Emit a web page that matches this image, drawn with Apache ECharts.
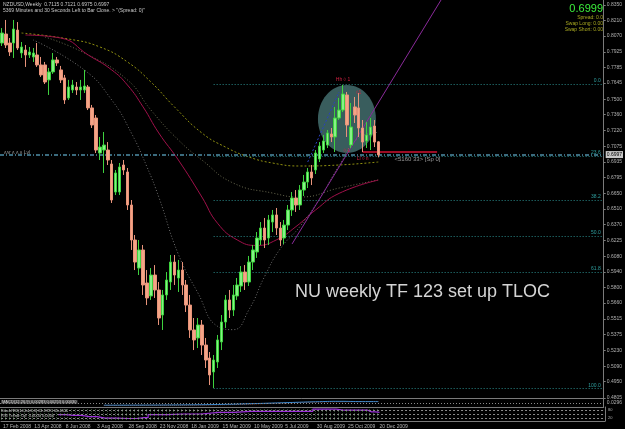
<!DOCTYPE html>
<html><head><meta charset="utf-8">
<script src="https://cdn.jsdelivr.net/npm/echarts@6/dist/echarts.min.js"></script>
<style>html,body{margin:0;padding:0;background:#000;}#c{width:625px;height:429px;}</style>
</head><body><div id="c"></div>
<script>
// ---- tick labels / categories ----
const dateLabels = ['17 Feb 2008','13 Apr 2008','8 Jun 2008','3 Aug 2008','28 Sep 2008','23 Nov 2008','18 Jan 2009','15 Mar 2009','10 May 2009','5 Jul 2009','30 Aug 2009','25 Oct 2009','20 Dec 2009'];
const labelStep = 8;
const slotCount = 154; // weekly slots incl. empty chart shift area
const priceTicks = [0.8350,0.8210,0.8070,0.7925,0.7785,0.7645,0.7500,0.7360,0.7220,0.7075,0.6935,0.6795,0.6650,0.6510,0.6370,0.6225,0.6080,0.5940,0.5800,0.5660,0.5515,0.5375,0.5230,0.5090,0.4950,0.4805];
const priceMin = 0.48031, priceMax = 0.83951;

// ---- weekly OHLC: [open, close, low, high] ----
const ohlc = [
[0.8007,0.8097,0.7980,0.8142],[0.8088,0.7989,0.7962,0.8215],[0.8007,0.7926,0.7890,0.8052],[0.8007,0.8133,0.7872,0.8215],
[0.8124,0.7962,0.7944,0.8196],[0.7917,0.7971,0.7872,0.8016],[0.7944,0.7899,0.7791,0.7989],[0.7899,0.7926,0.7872,0.7971],
[0.7881,0.7917,0.7836,0.7962],[0.7899,0.7809,0.7791,0.8007],[0.7809,0.7719,0.7701,0.7881],[0.7809,0.7655,0.7637,0.7836],
[0.7674,0.7746,0.7538,0.7782],[0.7746,0.7854,0.7728,0.7917],[0.7854,0.7827,0.7800,0.7881],[0.7764,0.7674,0.7646,0.7800],
[0.7692,0.7493,0.7457,0.7719],[0.7511,0.7610,0.7493,0.7674],[0.7583,0.7628,0.7556,0.7674],[0.7610,0.7583,0.7538,0.7655],
[0.7583,0.7610,0.7493,0.7674],[0.7583,0.7619,0.7556,0.7764],[0.7610,0.7421,0.7402,0.7628],[0.7421,0.7267,0.7240,0.7448],
[0.7330,0.7041,0.7014,0.7357],[0.7014,0.7068,0.6951,0.7159],[0.7041,0.7086,0.6834,0.7204],[0.7041,0.6951,0.6906,0.7113],
[0.6915,0.6590,0.6563,0.6951],[0.6662,0.6834,0.6635,0.6861],[0.6662,0.6888,0.6635,0.6924],[0.6906,0.6861,0.6816,0.6951],
[0.6843,0.6545,0.6500,0.6879],[0.6545,0.6229,0.6139,0.6590],[0.6229,0.6030,0.5958,0.6274],[0.5976,0.6139,0.5913,0.6229],
[0.6139,0.5823,0.5733,0.6184],[0.5841,0.5706,0.5642,0.5958],[0.5724,0.5913,0.5688,0.5976],[0.5913,0.5778,0.5706,0.6003],
[0.5778,0.5525,0.5462,0.5850],[0.5552,0.5733,0.5417,0.5778],[0.5733,0.5868,0.5688,0.5940],[0.5850,0.6030,0.5778,0.6094],
[0.6030,0.5913,0.5823,0.6094],[0.5886,0.5958,0.5760,0.6049],[0.5958,0.5823,0.5733,0.6030],[0.5823,0.5642,0.5579,0.5868],
[0.5642,0.5417,0.5345,0.5733],[0.5417,0.5327,0.5236,0.5525],[0.5345,0.5462,0.5254,0.5525],[0.5462,0.5281,0.5191,0.5507],
[0.5281,0.5146,0.5074,0.5345],[0.5164,0.5011,0.4920,0.5218],[0.5038,0.5146,0.4893,0.5191],[0.5128,0.5327,0.5074,0.5372],
[0.5309,0.5489,0.5236,0.5552],[0.5489,0.5688,0.5435,0.5733],[0.5688,0.5597,0.5525,0.5778],[0.5597,0.5733,0.5543,0.5823],
[0.5724,0.5823,0.5688,0.5886],[0.5814,0.5940,0.5760,0.5994],[0.5940,0.5850,0.5778,0.6003],[0.5850,0.6030,0.5814,0.6085],
[0.6030,0.6139,0.5958,0.6184],[0.6121,0.6247,0.6067,0.6301],[0.6229,0.6337,0.6184,0.6391],[0.6337,0.6229,0.6157,0.6428],
[0.6247,0.6410,0.6184,0.6455],[0.6391,0.6455,0.6301,0.6500],[0.6455,0.6337,0.6274,0.6518],[0.6337,0.6229,0.6175,0.6391],
[0.6247,0.6364,0.6193,0.6410],[0.6364,0.6500,0.6319,0.6545],[0.6500,0.6608,0.6446,0.6662],[0.6608,0.6545,0.6482,0.6680],
[0.6545,0.6680,0.6500,0.6725],[0.6680,0.6752,0.6626,0.6816],[0.6752,0.6843,0.6698,0.6879],[0.6843,0.6789,0.6725,0.6906],
[0.6861,0.7014,0.6825,0.7041],[0.6960,0.7077,0.6933,0.7113],[0.7041,0.7123,0.7014,0.7177],[0.7086,0.7195,0.7059,0.7222],
[0.7186,0.7159,0.7113,0.7240],[0.7159,0.7330,0.7023,0.7430],[0.7330,0.7402,0.7312,0.7511],[0.7402,0.7547,0.7384,0.7628],
[0.7538,0.7267,0.7159,0.7565],[0.7086,0.7249,0.7059,0.7466],[0.7430,0.7357,0.7285,0.7520],[0.7421,0.7240,0.7159,0.7556],
[0.7240,0.7113,0.7023,0.7312],[0.7123,0.7177,0.7059,0.7294],[0.7177,0.7249,0.7041,0.7330],[0.7258,0.7113,0.7068,0.7312],
[0.7115,0.6997,0.6975,0.7121]
];
const bidPrice = 0.6997;
const tickerPrice = '0.6999';

// ---- moving averages: [weekIndex, price] ----
const maSlow = [[4.6,0.8097],[16.6,0.8043],[25,0.7971],[31.9,0.7836],[37.8,0.7655],[43.6,0.7430],[50.5,0.7195],[57.4,0.7068],[63.3,0.6978],[69.1,0.6924],[76,0.6897],[86,0.6906],[96,0.6933]];
const maMid = [[10.5,0.8061],[20.7,0.7917],[31.9,0.7674],[37.8,0.7402],[44.6,0.7132],[50.5,0.6951],[59,0.6743],[69,0.6653],[76,0.6617],[86,0.6698],[96,0.6771]];
const maRed = [[6.4,0.8079],[14.8,0.8052],[22.4,0.7899],[27.6,0.7764],[31.9,0.7628],[36,0.7430],[39.5,0.7195],[44.6,0.6951],[50.5,0.6617],[55,0.6380],[60,0.6230],[65,0.6180],[70,0.6230],[75,0.6350],[80,0.6500],[86,0.6650],[96,0.6770]];
const maFast = [[8,0.8034],[20.7,0.7764],[27.6,0.7493],[33.4,0.7195],[37,0.6888],[39.5,0.6617],[45,0.6100],[50,0.5750],[55,0.5450],[59,0.5420],[63,0.5600],[67,0.5900],[71,0.6150],[76,0.6350],[81,0.6600],[86,0.6900],[91,0.7150],[96,0.7200]];

// ---- fibonacci anchors & levels ----
const fibHigh = 0.7637, fibLow = 0.4887, fibStart = 54;
const fibLevels = [0, 23.6, 38.2, 50.0, 61.8, 100.0];

// ---- drawn objects ----
const trendPurple = [[74,0.6193],[112,0.8395]];
const trendBlue = [[77.8,0.6933],[85.5,0.7565]];
const redLine = [[92,0.7023],[111,0.7023]];

// ---- sub-window indicators (0..100 scale) ----
const macdMain = [[26,20],[35,21],[45,23],[55,28],[62,35],[70,45],[80,58],[86,63],[92,60],[96,60]];
const macdSignal = [[26,17],[40,19],[55,24],[70,41],[80,54],[90,59],[96,62]];
const oscLine = [[14,46],[18,40],[22,31],[26,20],[32,18],[36,24],[38,46],[46,50],[55,62],[63,69],[75,69],[83,85],[87,77],[92,77],[94,65],[96,62]];
const oscLevels = [80, 50, 20];

const cats = [];
for (let i = 0; i < slotCount; i++) cats.push(String(i));

const FONT = 'Liberation Sans';
const chart = echarts.init(document.getElementById('c'), null, {renderer: 'canvas'});

const fibRange = fibHigh - fibLow;
const fibMark = fibLevels.map(l => {
  const v = fibHigh - fibRange * l / 100;
  return [{coord: [fibStart, v]}, {coord: [slotCount - 1, v],
    label: {show: true, formatter: l.toFixed(1), position: 'insideEndTop', color: '#2f9f9f', fontSize: 5, fontFamily: FONT, distance: 1}}];
});

function axisX(grid, showLabel) {
  return {
    type: 'category', data: cats, gridIndex: grid, boundaryGap: true,
    axisLine: {show: true, lineStyle: {color: '#7a7a7a', width: 1}},
    axisTick: {show: false},
    splitLine: grid === 2 ? {show: true, interval: (idx) => idx <= ohlc.length - 1, lineStyle: {color: '#2e4a2e', width: 1, type: [1, 1]}} : {show: false},
    axisLabel: showLabel ? {
      show: true, interval: (idx) => idx % labelStep === 0 && idx / labelStep < dateLabels.length,
      formatter: (v, idx) => dateLabels[idx / labelStep] || '',
      align: 'left', color: '#b8b8b8', fontSize: 5, fontFamily: FONT, margin: 3
    } : {show: false}
  };
}

const option = {
  backgroundColor: '#000000',
  animation: false,
  grid: [
    {left: 0, top: 0, width: 605, height: 398},
    {left: 0, top: 398, width: 605, height: 9},
    {left: 0, top: 407, width: 605, height: 14}
  ],
  xAxis: [axisX(0, false), axisX(1, false), axisX(2, true)],
  yAxis: [
    {type: 'value', gridIndex: 0, position: 'right', min: priceMin, max: priceMax, scale: true,
     axisLine: {show: true, lineStyle: {color: '#7a7a7a'}},
     axisTick: {show: true, length: 2, inside: false, customValues: priceTicks, lineStyle: {color: '#7a7a7a'}},
     splitLine: {show: false},
     axisLabel: {show: true, customValues: priceTicks, formatter: v => v.toFixed(4), color: '#b0b0b0', fontSize: 5, fontFamily: FONT, margin: 3}},
    {type: 'value', gridIndex: 1, position: 'right', min: 0, max: 100,
     axisLine: {show: true, lineStyle: {color: '#7a7a7a'}}, axisTick: {show: false}, splitLine: {show: false},
     axisLabel: {show: true, customValues: [45], formatter: () => '0.0296', color: '#b0b0b0', fontSize: 5, fontFamily: FONT, margin: 3}},
    {type: 'value', gridIndex: 2, position: 'right', min: 0, max: 100,
     axisLine: {show: true, lineStyle: {color: '#7a7a7a'}}, axisTick: {show: false}, splitLine: {show: false},
     axisLabel: {show: true, customValues: [80, 20], formatter: v => String(v), color: '#b0b0b0', fontSize: 4, fontFamily: FONT, margin: 3}}
  ],
  series: [
    {type: 'line', xAxisIndex: 0, yAxisIndex: 0, data: maSlow, smooth: true, showSymbol: false, z: 3,
     lineStyle: {color: '#8f8f10', width: 1, type: [2, 2]}},
    {type: 'line', xAxisIndex: 0, yAxisIndex: 0, data: maMid, smooth: true, showSymbol: false, z: 3,
     lineStyle: {color: '#6a6a50', width: 1, type: [1, 2]}},
    {type: 'line', xAxisIndex: 0, yAxisIndex: 0, data: maRed, smooth: true, showSymbol: false, z: 3,
     lineStyle: {color: '#a0104a', width: 1}},
    {type: 'line', xAxisIndex: 0, yAxisIndex: 0, data: maFast, smooth: true, showSymbol: false, z: 3,
     lineStyle: {color: '#6f6f6f', width: 1, type: [1, 2]}},
    {type: 'line', xAxisIndex: 0, yAxisIndex: 0, data: trendPurple, showSymbol: false, z: 3,
     lineStyle: {color: '#8a2a9a', width: 1}},
    {type: 'line', xAxisIndex: 0, yAxisIndex: 0, data: trendBlue, showSymbol: false, z: 3,
     lineStyle: {color: '#2a40c0', width: 1, type: [2, 2]}},
    {type: 'line', xAxisIndex: 0, yAxisIndex: 0, data: redLine, showSymbol: false, z: 3,
     lineStyle: {color: '#d01030', width: 1.5}},
    {type: 'candlestick', xAxisIndex: 0, yAxisIndex: 0, data: ohlc, barWidth: 3, z: 5,
     itemStyle: {color: '#86f286', borderColor: '#3ed23e', color0: '#f4a586', borderColor0: '#e8937a', borderWidth: 1},
     markLine: {
       silent: true, symbol: ['none', 'none'], animation: false,
       lineStyle: {color: '#2a8a8a', width: 1, type: [1, 2]},
       label: {show: false},
       data: [
         ...fibMark,
         {yAxis: bidPrice, lineStyle: {color: '#4f8fa8', width: 1.5, type: [4, 2, 1, 2]},
          label: {show: true, position: 'end', formatter: bidPrice.toFixed(4), color: '#000', backgroundColor: '#c8c8c8',
                  fontSize: 5, fontFamily: FONT, padding: [1, 1], distance: 2}}
       ]
     }},
    {type: 'line', xAxisIndex: 1, yAxisIndex: 1, data: macdSignal, smooth: true, showSymbol: false,
     lineStyle: {color: '#a04a2a', width: 1, type: [1, 1]}},
    {type: 'line', xAxisIndex: 1, yAxisIndex: 1, data: macdMain, smooth: true, showSymbol: false,
     lineStyle: {color: '#3a8ad0', width: 1},
     markLine: {silent: true, symbol: ['none', 'none'], label: {show: false},
       lineStyle: {color: '#8a8a8a', width: 1, type: [1, 2]}, data: [{yAxis: 45}]}},
    {type: 'line', xAxisIndex: 2, yAxisIndex: 2, data: oscLine, showSymbol: false, step: 'middle',
     lineStyle: {color: '#9a30d8', width: 1.2},
     markLine: {silent: true, symbol: ['none', 'none'], label: {show: false},
       lineStyle: {color: '#8a8a8a', width: 1, type: [2, 2]}, data: oscLevels.map(v => ({yAxis: v}))}}
  ]
};
chart.setOption(option);

// ---- annotations positioned through the chart's own scales ----
const px = (i, p) => chart.convertToPixel({gridIndex: 0}, [i, p]);
const ell = px(87.8, 0.7321);
const hh = px(87.3, 0.7680);
const l1 = px(90.8, 0.7556);
const lo1 = px(88.2, 0.7036);
const lo2 = px(91.5, 0.6960);
const sp = px(105.9, 0.6960);
chart.setOption({
  graphic: [
    {type: 'ellipse', shape: {cx: ell[0], cy: ell[1], rx: 29, ry: 34}, style: {fill: 'rgba(92,150,150,0.62)'}, z: 1},
    {type: 'text', left: 3, top: 2, style: {text: 'NZDUSD,Weekly  0.7115 0.7121 0.6975 0.6997', fill: '#c8c8c8', font: '5px ' + FONT}},
    {type: 'text', left: 3, top: 8, style: {text: "5369 Minutes and 30 Seconds Left to Bar Close. > ''(Spread: 0)''", fill: '#c8c8c8', font: '5px ' + FONT}},
    {type: 'text', right: 22, top: 3, style: {text: tickerPrice, fill: '#3cf03c', font: '11px ' + FONT, align: 'right'}},
    {type: 'text', right: 22, top: 15, style: {text: 'Spread: 0.0', fill: '#a8a820', font: '5px ' + FONT}},
    {type: 'text', right: 22, top: 21, style: {text: 'Swap Long: 0.00', fill: '#a8a820', font: '5px ' + FONT}},
    {type: 'text', right: 22, top: 27, style: {text: 'Swap Short: 0.00', fill: '#a8a820', font: '5px ' + FONT}},
    {type: 'text', left: 295, top: 283, style: {text: 'NU weekly TF 123 set up TLOC', fill: '#d4d4d4', font: '18px ' + FONT}},
    {type: 'text', x: hh[0], y: hh[1], style: {text: 'Hh \u25CA 1', fill: '#d02040', font: '5px ' + FONT, align: 'center', verticalAlign: 'middle'}, z: 10},
    {type: 'text', x: l1[0], y: l1[1], style: {text: '\u25CA1', fill: '#d02040', font: '5px ' + FONT, align: 'center', verticalAlign: 'middle'}, z: 10},
    {type: 'text', x: lo1[0], y: lo1[1], style: {text: '\u25CA L', fill: '#d02040', font: '5px ' + FONT, align: 'center', verticalAlign: 'middle'}, z: 10},
    {type: 'text', x: lo2[0], y: lo2[1], style: {text: 'Ll \u25CA n', fill: '#d02040', font: '5px ' + FONT, align: 'center', verticalAlign: 'middle'}, z: 10},
    {type: 'text', x: sp[0], y: sp[1], style: {text: '<5160 33> [Sp 0]', fill: '#9a9a9a', font: '6px ' + FONT, align: 'center', verticalAlign: 'middle'}, z: 10},
    {type: 'text', left: 4, top: 150, style: {text: 'ʌʌr ʌ ʌ ʌ Lvl', fill: '#9a9a9a', font: '5px ' + FONT}},
    {type: 'text', left: 1, top: 400, style: {text: 'MACD(12,26,9) 0.00283 0.00253 0.00030', fill: '#d0d0d0', font: '4px ' + FONT, backgroundColor: '#404040', padding: [0, 1]}},
    {type: 'text', left: 1, top: 409, style: {text: 'StochRSI(14,14,3,3) 61.9370 65.4511', fill: '#c0c0c0', font: '4px ' + FONT}},
    {type: 'text', left: 1, top: 414, style: {text: 'RSI Trend: Up  0.0000 0.0000', fill: '#c0c0c0', font: '4px ' + FONT}}
  ]
});
</script>
</body></html>
